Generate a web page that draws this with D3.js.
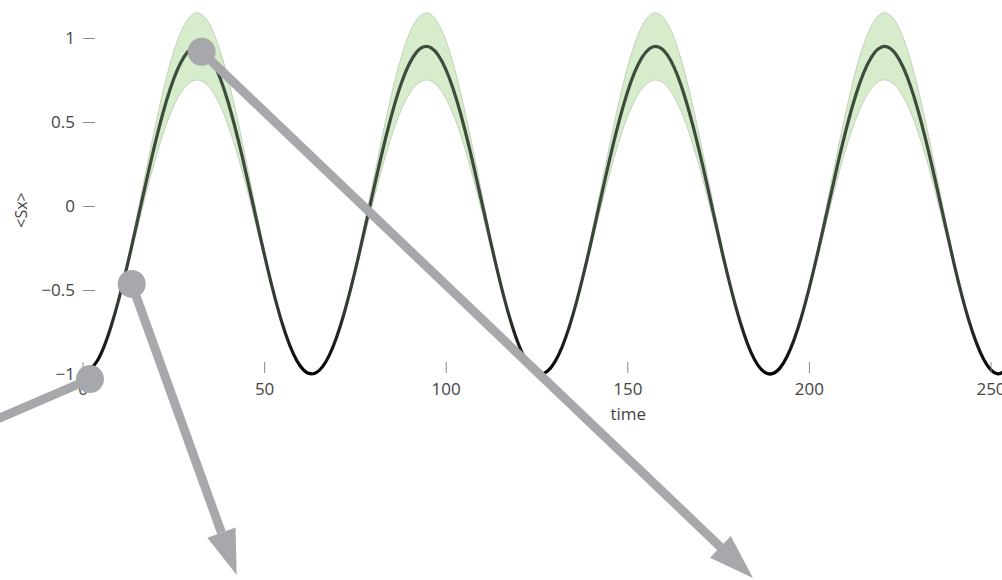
<!DOCTYPE html>
<html>
<head>
<meta charset="utf-8">
<script src="https://cdn.jsdelivr.net/npm/d3@7"></script>
<style>
  html, body { margin: 0; padding: 0; background: #fff; overflow: hidden; }
  svg { display: block; }
</style>
</head>
<body>
<svg id="chart" width="1002" height="580"></svg>
<script>
// Sample times
const time = [0, 4, 8, 12, 16, 20, 24, 28, 32, 36, 40, 44, 48, 52, 56, 60,
  64, 68, 72, 76, 80, 84, 88, 92, 96, 100, 104, 108, 112, 116, 120, 124,
  128, 132, 136, 140, 144, 148, 152, 156, 160, 164, 168, 172, 176, 180, 184, 188,
  192, 196, 200, 204, 208, 212, 216, 220, 224, 228, 232, 236, 240, 244, 248, 252,
  256];

// Mean <Sx> at each sample time
const sx = [-1.000, -0.924, -0.707, -0.383, -0.003, 0.373, 0.687, 0.889, 0.949, 0.856, 0.625, 0.292, -0.091, -0.463, -0.766, -0.954,
  -0.996, -0.886, -0.641, -0.300, 0.084, 0.451, 0.744, 0.916, 0.941, 0.815, 0.558, 0.208, -0.177, -0.539, -0.820, -0.977,
  -0.984, -0.842, -0.572, -0.216, 0.171, 0.526, 0.795, 0.935, 0.926, 0.767, 0.484, 0.123, -0.263, -0.610, -0.868, -0.992,
  -0.965, -0.791, -0.496, -0.129, 0.255, 0.595, 0.838, 0.947, 0.902, 0.713, 0.409, 0.037, -0.347, -0.679, -0.908, -0.999,
  -0.938];

// Half-width of the spread band around the mean
const spread = [0, 0, 0.005, 0.020, 0.052, 0.099, 0.150, 0.188, 0.200, 0.181, 0.139, 0.088, 0.043, 0.015, 0.003, 0,
  0, 0.001, 0.007, 0.026, 0.062, 0.111, 0.160, 0.193, 0.198, 0.173, 0.128, 0.077, 0.036, 0.011, 0.002, 0,
  0, 0.001, 0.010, 0.032, 0.072, 0.122, 0.169, 0.197, 0.195, 0.164, 0.116, 0.066, 0.029, 0.008, 0.001, 0,
  0, 0.002, 0.013, 0.040, 0.083, 0.134, 0.178, 0.199, 0.190, 0.154, 0.104, 0.057, 0.022, 0.005, 0, 0,
  0];

const xTicks = [0, 50, 100, 150, 200, 250];
const yTicks = [-1, -0.5, 0, 0.5, 1];
const yTickLabels = ["\u22121", "\u22120.5", "0", "0.5", "1"];

// Callouts: dot at [time, value], pointing toward [time, value]
const calloutFrom = [[32.8, 0.918], [13.55, -0.464], [2.06, -1.03]];
const calloutTo = [[184.6, -2.214], [42.46, -2.196], [-31, -1.339]];
const calloutHead = [true, true, false];

const svg = d3.select("#chart");
const x = d3.scaleLinear().domain([0, 250]).range([82.5, 990.5]);
const y = d3.scaleLinear().domain([-1, 1]).range([374, 38]);

const rows = time.map((t, i) => ({ t, v: sx[i], s: spread[i] }));

// Line shading: grey-green on the upper swings, black at the troughs
const defs = svg.append("defs");
const grad = defs.append("linearGradient")
  .attr("id", "lineShade")
  .attr("gradientUnits", "userSpaceOnUse")
  .attr("x1", 0).attr("x2", 0)
  .attr("y1", y(1)).attr("y2", y(-1));
[[0, "#3e4e3e"], [0.55, "#3b473b"], [0.8, "#343b34"], [0.93, "#161816"], [1, "#000"]]
  .forEach(([o, c]) => grad.append("stop").attr("offset", o).attr("stop-color", c));

// Spread band
const band = d3.area()
  .x(d => x(d.t))
  .y0(d => y(d.v - d.s))
  .y1(d => y(d.v + d.s))
  .curve(d3.curveNatural);
svg.append("path")
  .datum(rows)
  .attr("d", band)
  .attr("fill", "#d6ecca")
  .attr("stroke", "#b7c9b0")
  .attr("stroke-width", 0.8);

// Mean line
const line = d3.line()
  .x(d => x(d.t))
  .y(d => y(d.v))
  .curve(d3.curveNatural);
svg.append("path")
  .datum(rows)
  .attr("d", line)
  .attr("fill", "none")
  .attr("stroke", "url(#lineShade)")
  .attr("stroke-width", 3.2);

// Axes
const font = "'Open Sans', 'DejaVu Sans', sans-serif";
const yAxis = d3.axisLeft(y)
  .tickValues(yTicks)
  .tickFormat((d, i) => yTickLabels[i])
  .tickSize(12)
  .tickPadding(8);
const gy = svg.append("g").attr("transform", "translate(95,0)").call(yAxis);

const xAxis = d3.axisBottom(x)
  .tickValues(xTicks)
  .tickFormat(d3.format("d"))
  .tickSize(11)
  .tickPadding(10);
const gx = svg.append("g").attr("transform", "translate(0,362)").call(xAxis);

[gy, gx].forEach(g => {
  g.select(".domain").remove();
  g.selectAll(".tick line").attr("stroke", "#8a8a8a").attr("stroke-width", 1);
  g.selectAll(".tick text")
    .attr("fill", "#444")
    .style("font-family", font)
    .style("font-size", "17px");
});

svg.append("text")
  .attr("x", x(150) + 1)
  .attr("y", 420)
  .attr("text-anchor", "middle")
  .attr("fill", "#444")
  .style("font-family", font)
  .style("font-size", "17px")
  .text("time");

svg.append("text")
  .attr("transform", "translate(21,210) rotate(-90)")
  .attr("text-anchor", "middle")
  .attr("dy", "0.35em")
  .attr("fill", "#444")
  .style("font-family", font)
  .style("font-size", "16px")
  .text("<Sx>");

// Callout arrows
const grey = "#a7a8ac";
const headLen = 45, headHalf = 15;
const gc = svg.append("g");
calloutFrom.forEach((f, i) => {
  const p0 = [x(f[0]), y(f[1])];
  const p1 = [x(calloutTo[i][0]), y(calloutTo[i][1])];
  const dx = p1[0] - p0[0], dy = p1[1] - p0[1];
  const len = Math.hypot(dx, dy);
  const ux = dx / len, uy = dy / len;
  const end = calloutHead[i] ? [p1[0] - ux * headLen, p1[1] - uy * headLen] : p1;
  gc.append("line")
    .attr("x1", p0[0]).attr("y1", p0[1])
    .attr("x2", end[0]).attr("y2", end[1])
    .attr("stroke", grey)
    .attr("stroke-width", 9);
  if (calloutHead[i]) {
    const nx = -uy, ny = ux;
    gc.append("polygon")
      .attr("points", [
        [p1[0], p1[1]],
        [end[0] + nx * headHalf, end[1] + ny * headHalf],
        [end[0] - nx * headHalf, end[1] - ny * headHalf]
      ].map(p => p.join(",")).join(" "))
      .attr("fill", grey);
  }
  gc.append("circle")
    .attr("cx", p0[0]).attr("cy", p0[1])
    .attr("r", 14)
    .attr("fill", grey);
});
</script>
</body>
</html>
